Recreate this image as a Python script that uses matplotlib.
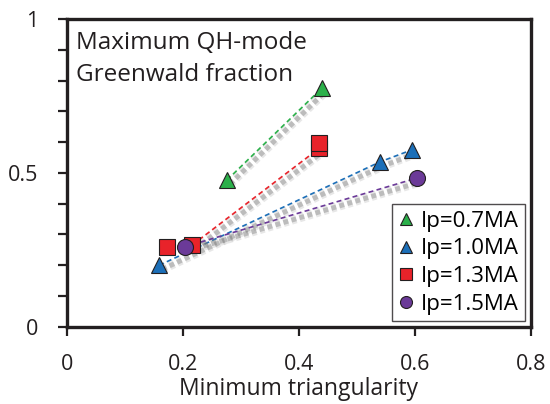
import matplotlib
matplotlib.use('Agg')
import matplotlib.pyplot as plt
import matplotlib.patheffects as pe
from matplotlib.ticker import MultipleLocator

plt.rcParams['font.family'] = ['Open Sans', 'DejaVu Sans']

# Minimum triangularity / max QH-mode Greenwald fraction for each plasma current
labels = ['Ip=0.7MA', 'Ip=1.0MA', 'Ip=1.3MA', 'Ip=1.5MA']
colors = ['#2bb04a', '#1c6fb8', '#e8232a', '#6b3a98']
markers = ['^', '^', 's', 'o']

x_07 = [0.276, 0.44]
y_07 = [0.477, 0.776]
x_10 = [0.159, 0.54, 0.595]
y_10 = [0.20, 0.536, 0.575]
x_13 = [0.172, 0.216, 0.435, 0.435]
y_13 = [0.26, 0.266, 0.58, 0.597]
x_15 = [0.203, 0.603]
y_15 = [0.26, 0.483]

# dashed trend lines drawn between these points
line_x = [[0.276, 0.44], [0.159, 0.54, 0.595], [0.216, 0.435], [0.203, 0.603]]
line_y = [[0.477, 0.776], [0.20, 0.536, 0.575], [0.266, 0.58], [0.26, 0.483]]

dark = '#231f20'

fig = plt.figure(figsize=(5.5, 4.04), dpi=100)
ax = fig.add_axes([0.122, 0.191, 0.843, 0.762])

# soft grey drop shadow under the dashed lines
shadow = [pe.SimpleLineShadow(offset=(2, -3), shadow_color='#888888', alpha=0.2, linewidth=6.5),
          pe.SimpleLineShadow(offset=(2, -3), shadow_color='#777777', alpha=0.38, linewidth=3.5),
          pe.Normal()]
for lx, ly, c in zip(line_x, line_y, colors):
    ax.plot(lx, ly, ls=(0, (3, 2)), color=c, lw=1.2, path_effects=shadow, zorder=2)

for xs, ys, c, m, lab, ms in zip([x_07, x_10, x_13, x_15], [y_07, y_10, y_13, y_15],
                                 colors, markers, labels, [12, 12, 11, 11.5]):
    ax.plot(xs, ys, ls='none', marker=m, ms=ms, mfc=c, mec=dark, mew=0.8,
            label=lab, zorder=3)

ax.set_xlim(0, 0.8)
ax.set_ylim(0, 1)
ax.set_xticks([0, 0.2, 0.4, 0.6, 0.8])
ax.set_xticklabels(['0', '0.2', '0.4', '0.6', '0.8'])
ax.set_yticks([0, 0.5, 1])
ax.set_yticklabels(['0', '0.5', '1'])
ax.yaxis.set_minor_locator(MultipleLocator(0.1))
ax.tick_params(axis='x', which='major', direction='out', length=6.5, width=1.6,
               labelsize=15.5, colors=dark, pad=13)
ax.tick_params(axis='y', which='major', direction='out', length=6.5, width=1.6,
               labelsize=15.5, colors=dark, pad=14)
ax.tick_params(axis='y', which='minor', direction='out', length=6.5, width=1.6, colors=dark)
for s in ax.spines.values():
    s.set_linewidth(2.4)
    s.set_color(dark)

ax.set_xlabel('Minimum triangularity', fontsize=16.5, color=dark)
ax.xaxis.label.set_va('baseline')
ax.xaxis.set_label_coords(0.5, -0.222)
ax.text(0.02, 0.962, 'Maximum QH-mode\nGreenwald fraction', transform=ax.transAxes,
        ha='left', va='top', fontsize=17.5, color=dark, linespacing=1.45)

leg = ax.legend(loc='lower right', fontsize=16, frameon=True, fancybox=False,
                edgecolor=dark, handlelength=0.7, handletextpad=0.3,
                labelspacing=0.3, borderpad=0.3, borderaxespad=0.25, markerscale=0.75)
leg.get_frame().set_linewidth(1.0)

fig.savefig('out.png', dpi=100)
